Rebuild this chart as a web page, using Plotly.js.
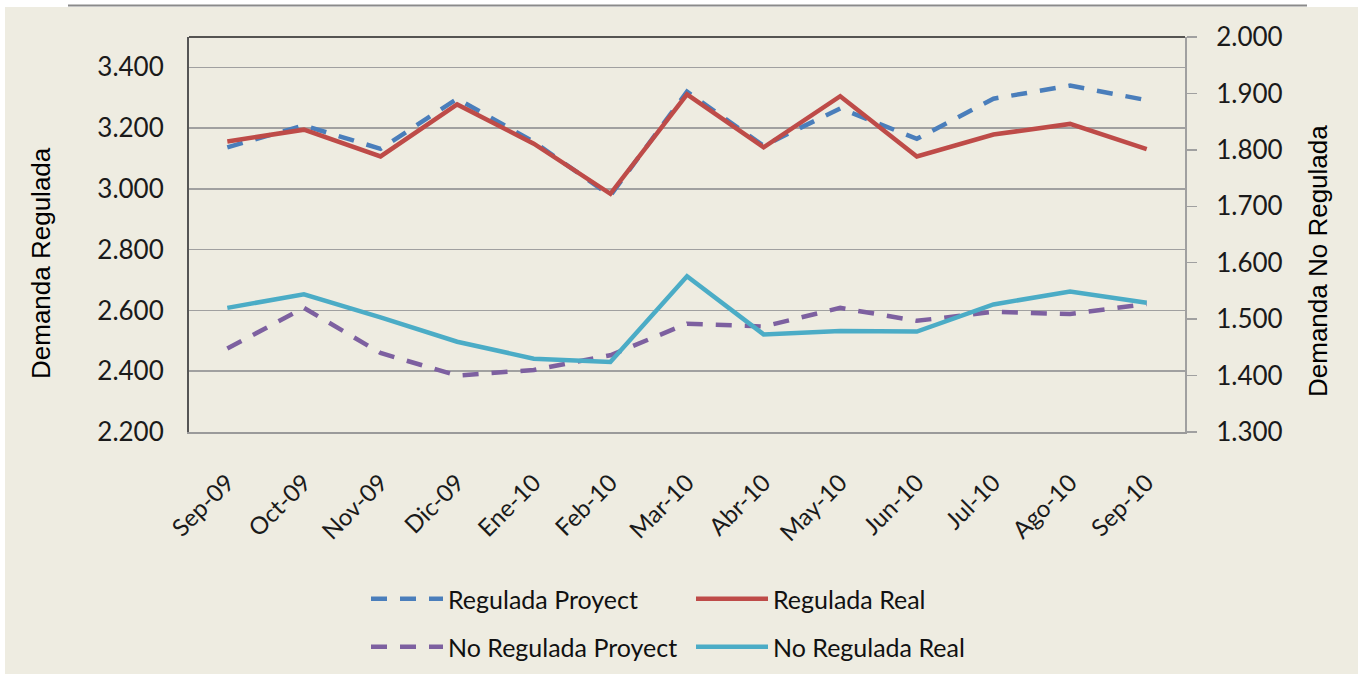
<!DOCTYPE html>
<html><head><meta charset="utf-8">
<script src="https://cdn.plot.ly/plotly-3.0.1.min.js"></script>
<style>html,body{margin:0;padding:0;background:#fff;} #chart{width:1362px;height:675px;}</style>
</head><body><div id="chart"></div>
<script>
const months = ['Sep-09','Oct-09','Nov-09','Dic-09','Ene-10','Feb-10','Mar-10','Abr-10','May-10','Jun-10','Jul-10','Ago-10','Sep-10'];
const reguladaProyect   = [3137,3209,3132,3297,3155,2978,3320,3142,3265,3165,3297,3340,3292];
const reguladaReal      = [3156,3195,3107,3278,3149,2984,3311,3137,3305,3107,3179,3214,3131];
const noReguladaProyect = [1448,1520,1440,1400,1410,1436,1492,1487,1520,1497,1513,1509,1527];
const noReguladaReal    = [1520,1544,1503,1460,1430,1424,1576,1473,1479,1478,1526,1549,1529];
const leftTicks  = [2200,2400,2600,2800,3000,3200,3400];
const rightTicks = [1300,1400,1500,1600,1700,1800,1900,2000];
const names = ['Regulada Proyect','Regulada Real','No Regulada Proyect','No Regulada Real'];
const axisTitles = ['Demanda Regulada','Demanda No Regulada'];

const W = 1362, H = 675;
const L = 189, R = 1185, T = 37, B = 432;
const px = v => (v - L) / (R - L);
const py = v => (B - v) / (B - T);

const tickFont = {family: 'Lato, "Open Sans", sans-serif', size: 26, color: '#1a1a1a'};
const titleFont = {family: '"Liberation Sans", Arial, sans-serif', size: 26, color: '#000'};
const legFont = {family: 'Lato, "Open Sans", sans-serif', size: 25, color: '#111'};

const traces = [
  {x: months, y: reguladaProyect, name: names[0], type: 'scatter', mode: 'lines', yaxis: 'y',
   line: {color: '#4A7EBB', width: 4.5, dash: '16px,13px'}, legend: 'legend'},
  {x: months, y: reguladaReal, name: names[1], type: 'scatter', mode: 'lines', yaxis: 'y',
   line: {color: '#BE4B48', width: 4.5}, legend: 'legend'},
  {x: months, y: noReguladaProyect, name: names[2], type: 'scatter', mode: 'lines', yaxis: 'y2',
   line: {color: '#7D60A0', width: 4.5, dash: '16px,13px'}, legend: 'legend2'},
  {x: months, y: noReguladaReal, name: names[3], type: 'scatter', mode: 'lines', yaxis: 'y2',
   line: {color: '#4BACC6', width: 4.5}, legend: 'legend2'}
];

const legendBase = {
  orientation: 'h', x: px(366), xanchor: 'left', yanchor: 'middle',
  bgcolor: 'rgba(0,0,0,0)', font: legFont, itemwidth: 72,
  entrywidth: 238, entrywidthmode: 'pixels', traceorder: 'normal'
};

const layout = {
  width: W, height: H,
  margin: {l: L, r: W - R, t: T, b: H - B, pad: 0, autoexpand: false},
  paper_bgcolor: '#ffffff',
  plot_bgcolor: 'rgba(0,0,0,0)',
  separators: ',.',
  showlegend: true,
  xaxis: {
    type: 'category', range: [-0.5, 12.5], fixedrange: true,
    showgrid: false, zeroline: false,
    showline: true, linecolor: '#9a9a9a', linewidth: 2,
    ticks: '', tickangle: -45, tickfont: {family: tickFont.family, size: 24, color: '#1a1a1a'},
    ticklabelstandoff: 25, automargin: false
  },
  yaxis: {
    range: [2200, 3500], tickvals: leftTicks, tickformat: ',.0f',
    showgrid: true, gridcolor: '#a0a0a0', gridwidth: 1.5, zeroline: false,
    showline: true, linecolor: '#555555', linewidth: 2,
    ticks: '', tickfont: tickFont, ticklabelstandoff: 18, automargin: false
  },
  yaxis2: {
    overlaying: 'y', side: 'right', range: [1300, 2000], tickvals: rightTicks, tickformat: ',.0f',
    showgrid: false, zeroline: false,
    showline: true, linecolor: '#a0a0a0', linewidth: 2,
    ticks: 'outside', ticklen: 10, tickwidth: 1.5, tickcolor: '#a0a0a0',
    tickfont: tickFont, ticklabelstandoff: 14, automargin: false
  },
  legend: Object.assign({}, legendBase, {y: py(599)}),
  legend2: Object.assign({}, legendBase, {y: py(647)}),
  annotations: [
    {text: axisTitles[0], xref: 'paper', yref: 'paper', x: px(41), y: py(263),
     xanchor: 'center', yanchor: 'middle', textangle: -90, showarrow: false, font: titleFont},
    {text: axisTitles[1], xref: 'paper', yref: 'paper', x: px(1318), y: py(261),
     xanchor: 'center', yanchor: 'middle', textangle: -90, showarrow: false, font: titleFont}
  ],
  shapes: [
    {type: 'rect', xref: 'paper', yref: 'paper', layer: 'below',
     x0: px(5), x1: px(1358), y0: py(674), y1: py(7),
     fillcolor: '#EEECE1', line: {width: 0}},
    {type: 'line', xref: 'paper', yref: 'paper', layer: 'above',
     x0: px(68), x1: px(1307), y0: py(5.5), y1: py(5.5),
     line: {color: '#8a8a8a', width: 2}},
    {type: 'line', xref: 'paper', yref: 'paper', layer: 'above',
     x0: 0, x1: 1, y0: 1, y1: 1, line: {color: '#222222', width: 1.5}}
  ]
};

Plotly.newPlot('chart', traces, layout, {displayModeBar: false, staticPlot: true});
</script>
</body></html>
